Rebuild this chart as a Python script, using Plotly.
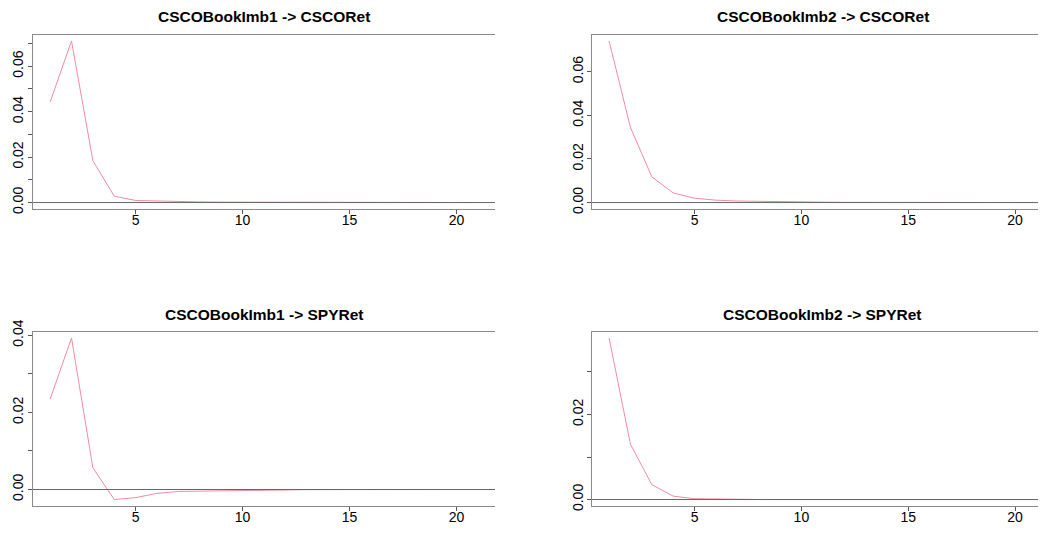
import plotly.graph_objects as go

PAGE_W, PAGE_H = 1046, 534
OFF = 8  # default body margin of the html page
W, H = PAGE_W - OFF, PAGE_H - OFF

steps = list(range(1, 22))

titles = [
    "CSCOBookImb1 -> CSCORet",
    "CSCOBookImb2 -> CSCORet",
    "CSCOBookImb1 -> SPYRet",
    "CSCOBookImb2 -> SPYRet",
]

imb1_csco = [0.0442, 0.0711, 0.0184, 0.0028, 0.0009, 0.0006, 0.0004, 0.0003, 0.0002, 0.0002,
             0.0001, 0.0001, 0.0001, 0.0001, 0.00005, 0.00004, 0.00003, 0.00002, 0.00002, 0.00001, 0.00001]
imb2_csco = [0.0741, 0.0344, 0.0118, 0.0044, 0.0020, 0.0011, 0.0007, 0.0005, 0.0003, 0.0002,
             0.0002, 0.0001, 0.0001, 0.0001, 0.00005, 0.00004, 0.00003, 0.00002, 0.00002, 0.00001, 0.00001]
imb1_spy = [0.0234, 0.0393, 0.0056, -0.0026, -0.0021, -0.0010, -0.0005, -0.0004, -0.0003, -0.0002,
            -0.0001, -0.0001, -0.00005, -0.00003, -0.00002, -0.00001, -0.00001, 0.0, 0.0, 0.0, 0.0]
imb2_spy = [0.0380, 0.0130, 0.0035, 0.0008, 0.0002, 0.0001, 0.00003, 0.00001, 0.0, 0.0,
            0.0, 0.0, 0.0, 0.0, 0.0, 0.0, 0.0, 0.0, 0.0, 0.0, 0.0]

series = [imb1_csco, imb2_csco, imb1_spy, imb2_spy]

ytick_vals = [
    [0.00, 0.01, 0.02, 0.03, 0.04, 0.05, 0.06, 0.07],
    [0.00, 0.02, 0.04, 0.06],
    [0.00, 0.01, 0.02, 0.03, 0.04],
    [0.00, 0.01, 0.02, 0.03],
]
ytick_labeled = [
    [0.00, 0.02, 0.04, 0.06],
    [0.00, 0.02, 0.04, 0.06],
    [0.00, 0.02, 0.04],
    [0.00, 0.02],
]
xtick_vals = [5, 10, 15, 20]

# plot boxes in page pixels: (left, right, top, bottom); right panels are clipped at the page edge
boxes = [
    (33, 495, 34.5, 209),
    (592, 1046, 34.5, 209),
    (33, 495, 331.5, 506),
    (592, 1046, 331.5, 506),
]
full_right = 1053.5  # where the right-hand plot box would end if not clipped

LINE_COL = "#f08c9e"
BOX_COL = "#8a8a8a"
TICK_COL = "#555555"
FONT = "Liberation Sans, Arial, Helvetica, sans-serif"


def fx(px):
    return (px - OFF) / W


def fy(py):
    return 1 - (py - OFF) / H


fig = go.Figure()

for i, (ys, box) in enumerate(zip(series, boxes)):
    n = i + 1
    xa = "x" if n == 1 else f"x{n}"
    ya = "y" if n == 1 else f"y{n}"
    fig.add_trace(go.Scatter(x=steps, y=ys, mode="lines", xaxis=xa, yaxis=ya,
                             line=dict(color=LINE_COL, width=1), showlegend=False,
                             hoverinfo="x+y"))
    l, r, t, b = box
    # R-style 4% padding
    x0, x1 = min(steps), max(steps)
    xs = x1 - x0
    xr = [x0 - 0.04 * xs, x1 + 0.04 * xs]
    rr = r
    if r == PAGE_W:
        xr[1] = xr[0] + (xr[1] - xr[0]) * (r - l) / (full_right - l)
        rr = full_right
    y0, y1 = min(ys), max(ys)
    ysp = y1 - y0
    yr = [y0 - 0.04 * ysp, y1 + 0.04 * ysp]

    fig.layout[f"xaxis{'' if n == 1 else n}"] = dict(
        domain=[fx(l), min(1.0, fx(r))], anchor=ya, range=xr, automargin=False,
        tickvals=xtick_vals, ticktext=[str(v) for v in xtick_vals],
        ticks="outside", ticklen=4, tickcolor=TICK_COL, tickwidth=1,
        ticklabelstandoff=-6,
        showline=True, linecolor=BOX_COL, linewidth=1, mirror=True,
        showgrid=False, zeroline=False,
        tickfont=dict(family=FONT, size=14, color="#000000"),
    )
    fig.layout[f"yaxis{'' if n == 1 else n}"] = dict(
        domain=[fy(b), fy(t)], anchor=xa, range=yr, automargin=False,
        tickvals=ytick_vals[i],
        ticktext=[f"{v:.2f}" if v in ytick_labeled[i] else "" for v in ytick_vals[i]],
        ticks="outside", ticklen=4, tickcolor=TICK_COL, tickwidth=1, tickangle=-90,
        ticklabelstandoff=-1 if l < 300 else -2,
        showline=True, linecolor=BOX_COL, linewidth=1, mirror=False,
        showgrid=False, zeroline=False,
        tickfont=dict(family=FONT, size=14, color="#000000"),
    )
    fig.add_shape(type="line", xref=f"{xa} domain", yref=ya, x0=0, x1=1, y0=0, y1=0,
                  line=dict(color="#666666", width=1), layer="above")
    fig.add_annotation(text=f"<b>{titles[i]}</b>", xref="paper", yref="paper",
                       x=fx((l + rr) / 2),
                       y=fy(t - 17.5), showarrow=False, xanchor="center", yanchor="middle",
                       font=dict(family=FONT, size=15.5, color="#000000"))

fig.update_layout(width=W, height=H, margin=dict(l=0, r=0, t=0, b=0), template="none",
                  paper_bgcolor="#ffffff", plot_bgcolor="#ffffff")

fig.write_html("out.html")
